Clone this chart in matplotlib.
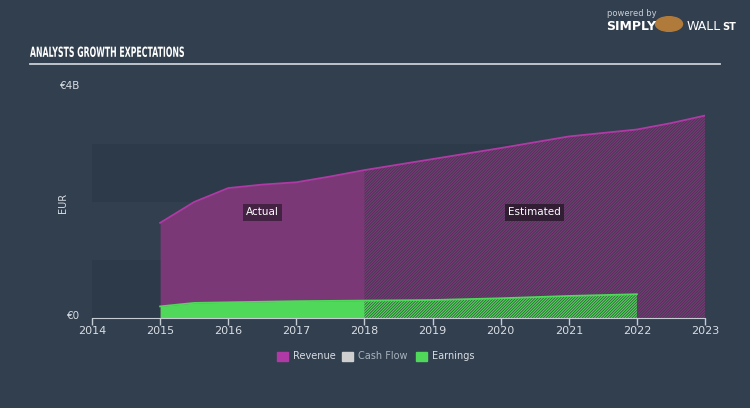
import numpy as np
import matplotlib
matplotlib.use("Agg")
from matplotlib import pyplot as plt
from matplotlib.patches import Rectangle, PathPatch
from matplotlib.textpath import TextPath
from matplotlib.font_manager import FontProperties
from matplotlib.transforms import Affine2D

# 数据 (单位: 十亿欧元)
rev_years = [2015.0, 2015.5, 2016.0, 2016.5, 2017.0, 2017.5, 2018.0,
             2019.0, 2020.0, 2021.0, 2022.0, 2022.5, 2023.0]
rev_values = [1.64, 2.00, 2.24, 2.30, 2.34, 2.44, 2.55,
              2.74, 2.93, 3.13, 3.25, 3.36, 3.49]
earn_years = [2015.0, 2015.5, 2016.0, 2017.0, 2018.0, 2019.0, 2020.0, 2021.0, 2022.0]
earn_values = [0.20, 0.26, 0.27, 0.29, 0.30, 0.31, 0.34, 0.38, 0.41]
split_year = 2018.0
x_ticks = list(range(2014, 2024))
legend_labels = ['Revenue', 'Cash Flow', 'Earnings']

bg = '#323f4f'
purple = '#7b3877'
purple_line = '#b03aa5'
green = '#4fd85a'
hatch_dark = '#40394f'
txt = '#d8dde3'

plt.rcParams['hatch.linewidth'] = 0.6
fig = plt.figure(figsize=(7.5, 4.08), dpi=100, facecolor=bg)
ax = fig.add_axes([92 / 750, 90 / 408, 613 / 750, 232 / 408])
ax.set_facecolor(bg)
ax.set_xlim(2014, 2023)
ax.set_ylim(0, 4)

# 背景色带
for lo in (0, 2):
    ax.axhspan(lo, lo + 1, color='#2d3a49', zorder=0, lw=0)


def split(xs, ys, at):
    xs = np.array(xs)
    ys = np.array(ys)
    y_at = np.interp(at, xs, ys)
    left = xs <= at
    right = xs >= at
    xl = np.append(xs[left], at) if xs[left][-1] != at else xs[left]
    yl = np.append(ys[left], y_at) if xs[left][-1] != at else ys[left]
    xr = np.insert(xs[right], 0, at) if xs[right][0] != at else xs[right]
    yr = np.insert(ys[right], 0, y_at) if xs[right][0] != at else ys[right]
    return xl, yl, xr, yr


rxl, ryl, rxr, ryr = split(rev_years, rev_values, split_year)
exl, eyl, exr, eyr = split(earn_years, earn_values, split_year)

# 实际
ax.fill_between(rxl, 0, ryl, color=purple, lw=0, zorder=2)
ax.fill_between(exl, 0, eyl, color=green, lw=0, zorder=3)
# 预测 (斜线)
ax.fill_between(rxr, 0, ryr, facecolor=purple, edgecolor=hatch_dark,
                hatch='/' * 12, lw=0, zorder=2)
ax.fill_between(exr, 0, eyr, facecolor=green, edgecolor='#3e5a45',
                hatch='/' * 12, lw=0, zorder=3)
ax.plot(rev_years, rev_values, color=purple_line, lw=1.3, zorder=4)
ax.plot(earn_years, earn_values, color=green, lw=1.3, zorder=4)

ax.text(2016.5, 1.82, 'Actual', color='white', fontsize=7.5, ha='center', va='center',
        zorder=5, bbox=dict(boxstyle='square,pad=0.3', fc='#3a1f3a', ec='none', alpha=0.85))
ax.text(2020.5, 1.82, 'Estimated', color='white', fontsize=7.5, ha='center', va='center',
        zorder=5, bbox=dict(boxstyle='square,pad=0.3', fc='#2d1c2f', ec='none', alpha=0.9))

for s in ['top', 'right', 'left']:
    ax.spines[s].set_visible(False)
ax.spines['bottom'].set_color('#c5ccd4')
ax.spines['bottom'].set_zorder(6)
ax.set_xticks(x_ticks)
ax.set_xticklabels([str(y) for y in x_ticks])
ax.tick_params(axis='x', colors='#c5ccd4', labelcolor=txt, labelsize=8, length=5, width=1, pad=1)
ax.set_yticks([])

fig.text(80 / 750, 1 - 86 / 408, '€4B', color=txt, fontsize=7.5, ha='right', va='center')
fig.text(80 / 750, 1 - 316 / 408, '€0', color=txt, fontsize=7.5, ha='right', va='center')
fig.text(63 / 750, 1 - 203 / 408, 'EUR', color=txt, fontsize=7, ha='center', va='center', rotation=90)

# 标题 (窄体, 用路径横向压缩)
tp = TextPath((0, 0), 'ANALYSTS GROWTH EXPECTATIONS', size=10,
              prop=FontProperties(family='DejaVu Sans', weight='bold'))
ext = tp.get_extents()
sx = 154 / ext.width
sy = 10.5 / ext.height
tr = Affine2D().translate(-ext.x0, -ext.y0).scale(sx, sy).translate(30, 408 - 57)
fig.patches.append(PathPatch(tp, transform=tr, color='white', lw=0))
fig.add_artist(plt.Line2D([30 / 750, 720 / 750], [1 - 64 / 408, 1 - 64 / 408],
                          color='#c8ced6', lw=1.3))

# logo
fig.text(607 / 750, 1 - 14 / 408, 'powered by', color='#c8ced6', fontsize=6, ha='left', va='center')
fig.text(606 / 750, 1 - 27 / 408, 'SIMPLY', color='white', fontsize=9, fontweight='bold',
         ha='left', va='center')
fig.text(687 / 750, 1 - 27 / 408, 'WALL', color='white', fontsize=9, ha='left', va='center')
fig.text(722 / 750, 1 - 27 / 408, 'ST', color='white', fontsize=7, fontweight='bold',
         ha='left', va='center')
fig.add_artist(plt.Circle((669 / 750, 1 - 24 / 408), 0.018, transform=fig.transFigure,
                          color='#b07a3a'))

# 图例
lx = [277, 342, 416]
cols = [purple_line, '#cfcfcf', green]
for x, c, lab in zip(lx, cols, legend_labels):
    fig.patches.append(Rectangle((x / 750, 1 - 361 / 408), 11 / 750, 9 / 408,
                                 transform=fig.transFigure, color=c))
    fig.text((x + 16) / 750, 1 - 356 / 408, lab, color=txt if lab != 'Cash Flow' else '#aab3bd',
             fontsize=7, ha='left', va='center')

plt.savefig('out.png', dpi=100, facecolor=bg)
